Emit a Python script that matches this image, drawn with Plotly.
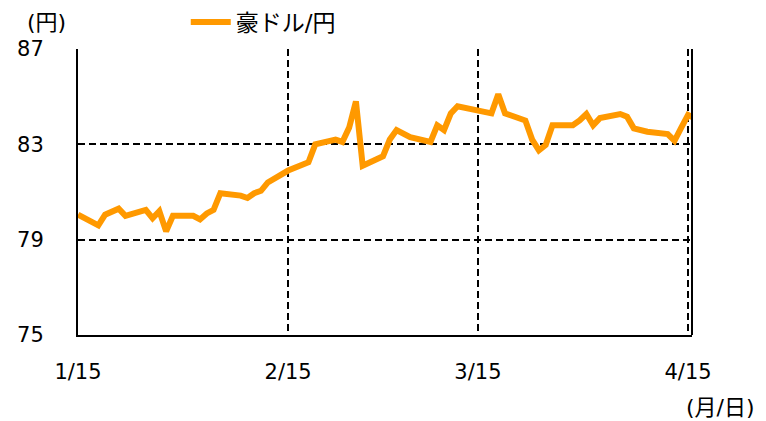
import plotly.graph_objects as go

# --- data (AUD/JPY, daily) ---
dates = [
    "2021-01-15", "2021-01-18", "2021-01-19", "2021-01-20", "2021-01-21", "2021-01-22",
    "2021-01-25", "2021-01-26", "2021-01-27", "2021-01-28", "2021-01-29",
    "2021-02-01", "2021-02-02", "2021-02-03", "2021-02-04", "2021-02-05",
    "2021-02-08", "2021-02-09", "2021-02-10", "2021-02-11", "2021-02-12",
    "2021-02-15", "2021-02-16", "2021-02-17", "2021-02-18", "2021-02-19",
    "2021-02-22", "2021-02-23", "2021-02-24", "2021-02-25", "2021-02-26",
    "2021-03-01", "2021-03-02", "2021-03-03", "2021-03-04", "2021-03-05",
    "2021-03-08", "2021-03-09", "2021-03-10", "2021-03-11", "2021-03-12",
    "2021-03-15", "2021-03-16", "2021-03-17", "2021-03-18", "2021-03-19",
    "2021-03-22", "2021-03-23", "2021-03-24", "2021-03-25", "2021-03-26",
    "2021-03-29", "2021-03-30", "2021-03-31", "2021-04-01", "2021-04-02",
    "2021-04-05", "2021-04-06", "2021-04-07", "2021-04-08", "2021-04-09",
    "2021-04-12", "2021-04-13", "2021-04-14", "2021-04-15", "2021-04-16",
]
aud_jpy = [
    80.05, 79.60, 80.05, 80.20, 80.30, 80.00,
    80.25, 79.90, 80.20, 79.35, 80.00,
    80.00, 79.85, 80.10, 80.25, 80.95,
    80.85, 80.75, 80.95, 81.05, 81.40,
    81.90, 82.00, 82.10, 82.25, 83.00,
    83.20, 83.10, 83.70, 84.80, 82.10,
    82.50, 83.20, 83.60, 83.45, 83.30,
    83.10, 83.80, 83.60, 84.30, 84.60,
    84.45, 84.40, 84.30, 85.10, 84.30,
    84.00, 83.20, 82.75, 82.97, 83.80,
    83.80, 84.00, 84.27, 83.80, 84.10,
    84.27, 84.16, 83.67, 83.60, 83.53,
    83.43, 83.15, 83.70, 84.23, 84.10,
]
series_name = "豪ドル/円"

y_ticks = [75, 79, 83, 87]
x_tickvals = ["2021-01-15", "2021-02-15", "2021-03-15", "2021-04-15"]
x_ticktext = ["1/15", "2/15", "3/15", "4/15"]

FONT = "DejaVu Sans, Noto Sans CJK JP, sans-serif"

fig = go.Figure()
fig.add_trace(go.Scatter(
    x=dates, y=aud_jpy, mode="lines", name=series_name,
    line=dict(color="#FF9900", width=6),
))

fig.update_layout(
    width=766, height=421,
    margin=dict(l=78, r=74, t=49, b=86, autoexpand=False),
    paper_bgcolor="white", plot_bgcolor="white",
    font=dict(family=FONT, size=21, color="black"),
    showlegend=True,
    legend=dict(
        orientation="h", xref="container", yref="container",
        x=0.2425, xanchor="left", y=0.9477, yanchor="middle",
        font=dict(size=23), bgcolor="rgba(0,0,0,0)", itemwidth=40,
    ),
)

fig.update_xaxes(
    type="date",
    range=["2021-01-15", "2021-04-15 14:00"],
    tickvals=x_tickvals, ticktext=x_ticktext,
    showgrid=True, gridcolor="black", gridwidth=1.5, griddash="7px,4px",
    showline=True, linecolor="black", linewidth=2,
    ticks="", ticklabelstandoff=17,
    zeroline=False, automargin=False,
)
fig.update_yaxes(
    range=[75, 87],
    tickvals=y_ticks,
    showgrid=True, gridcolor="black", gridwidth=1.5, griddash="7px,4px",
    showline=True, linecolor="black", linewidth=2,
    ticks="", ticklabelstandoff=28,
    zeroline=False, automargin=False,
)

# right border of the plot frame
fig.add_shape(type="line", xref="paper", yref="paper", x0=1, x1=1, y0=0, y1=1,
              line=dict(color="black", width=2))

fig.add_annotation(text="(円)", xref="paper", yref="paper", x=-0.052, y=1.094,
                   xanchor="center", yanchor="middle", showarrow=False,
                   font=dict(size=22))
fig.add_annotation(text="(月/日)", xref="paper", yref="paper", x=1.106, y=-0.255,
                   xanchor="right", yanchor="middle", showarrow=False,
                   font=dict(size=22))

fig.write_html("out.html", config={"displayModeBar": False},
               post_script="document.body.style.margin='0';")
